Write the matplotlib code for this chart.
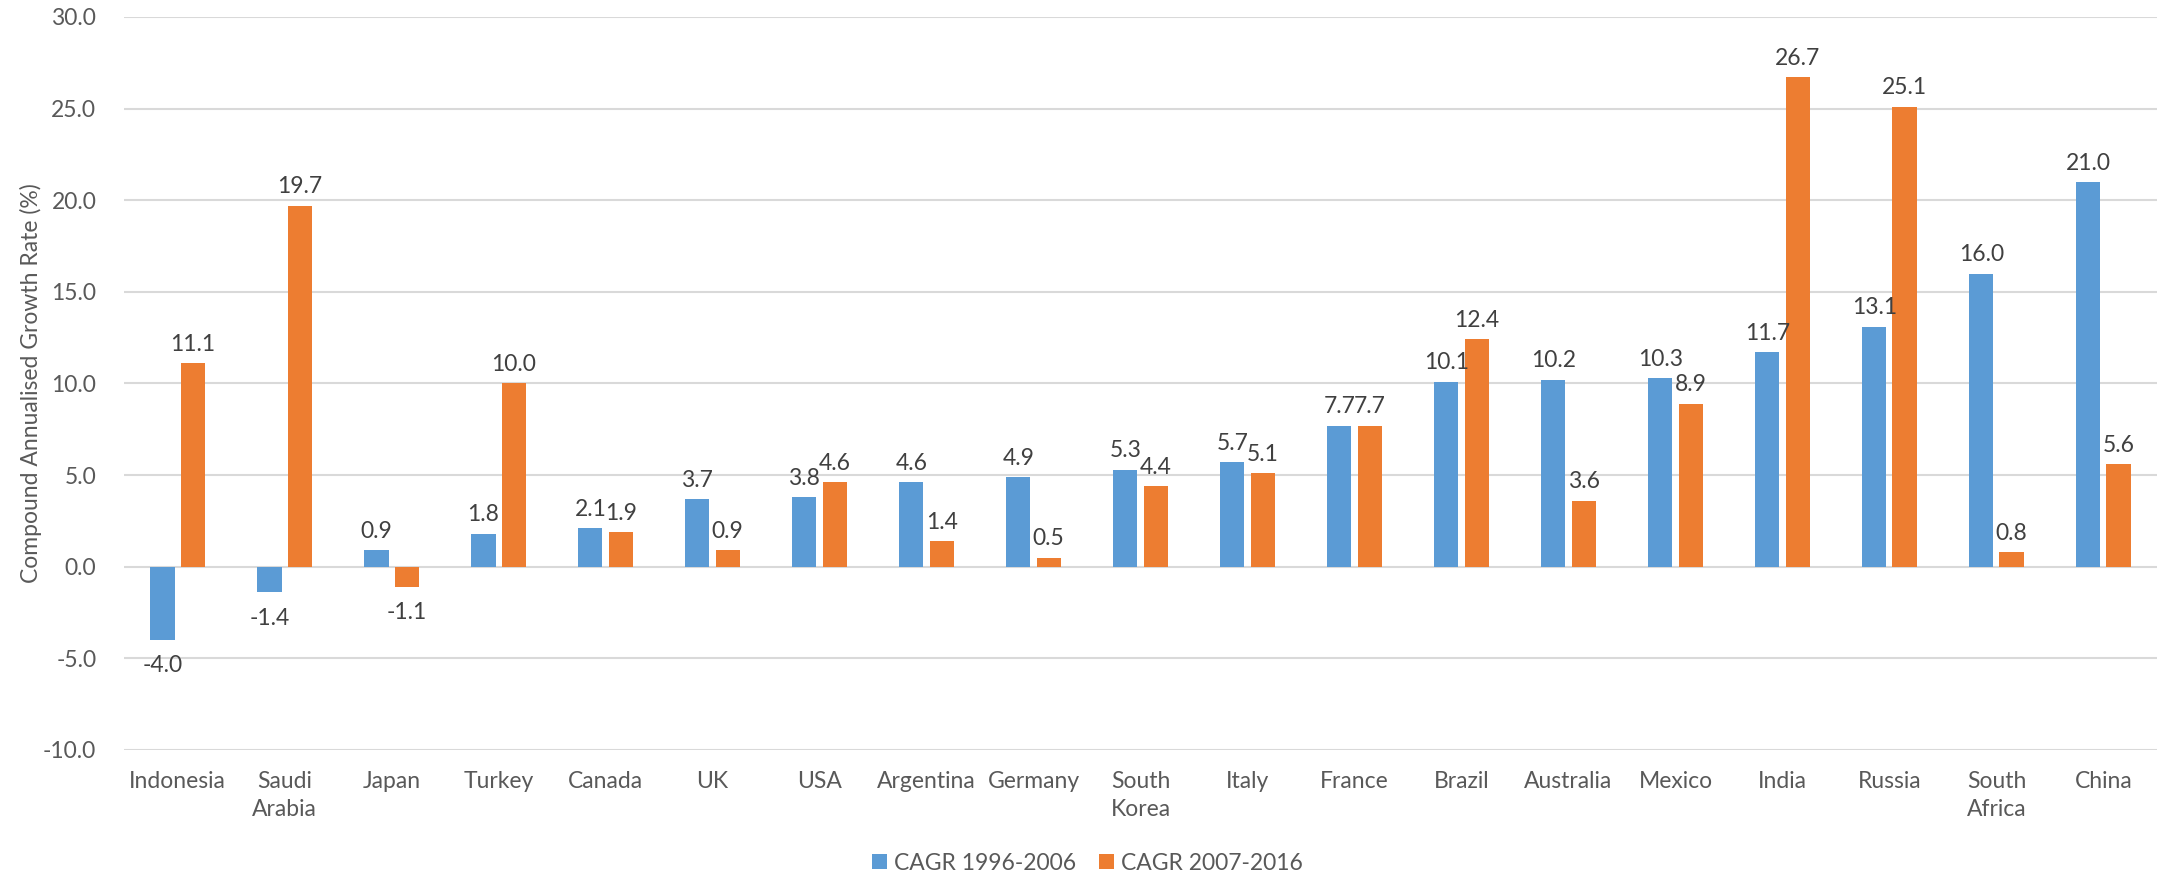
import matplotlib.pyplot as plt
import numpy as np

plt.rcParams['font.family'] = ['Lato', 'DejaVu Sans']

paises = ['Indonesia', 'Saudi\nArabia', 'Japan', 'Turkey', 'Canada', 'UK', 'USA',
          'Argentina', 'Germany', 'South\nKorea', 'Italy', 'France', 'Brazil',
          'Australia', 'Mexico', 'India', 'Russia', 'South\nAfrica', 'China']
cagr_1996_2006 = [-4.0, -1.4, 0.9, 1.8, 2.1, 3.7, 3.8, 4.6, 4.9, 5.3, 5.7, 7.7,
                  10.1, 10.2, 10.3, 11.7, 13.1, 16.0, 21.0]
cagr_2007_2016 = [11.1, 19.7, -1.1, 10.0, 1.9, 0.9, 4.6, 1.4, 0.5, 4.4, 5.1, 7.7,
                  12.4, 3.6, 8.9, 26.7, 25.1, 0.8, 5.6]
yticks = [-10, -5, 0, 5, 10, 15, 20, 25, 30]

cinza = '#595959'
azul = '#5B9BD5'
laranja = '#ED7D31'
tam = 16.5

fig = plt.figure(figsize=(21.58, 8.75), dpi=100)
ax = fig.add_axes([0.0575, 0.1429, 0.942, 0.8377])

x = np.arange(len(paises))
largura = 0.225
desloc = 0.141

# grade horizontal
for y in yticks:
    ax.axhline(y, color='#d9d9d9', linewidth=1.5, zorder=0)

b1 = ax.bar(x - desloc, cagr_1996_2006, width=largura, color=azul, label='CAGR 1996-2006', zorder=2)
b2 = ax.bar(x + desloc, cagr_2007_2016, width=largura, color=laranja, label='CAGR 2007-2016', zorder=2)

# rotulos dos valores
for barras, valores in [(b1, cagr_1996_2006), (b2, cagr_2007_2016)]:
    for barra, v in zip(barras, valores):
        cx = barra.get_x() + barra.get_width() / 2
        if v >= 0:
            ax.annotate('%.1f' % v, (cx, v), xytext=(0, 6), textcoords='offset points',
                        ha='center', va='bottom', fontsize=tam, color='#404040')
        else:
            ax.annotate('%.1f' % v, (cx, v), xytext=(0, -11), textcoords='offset points',
                        ha='center', va='top', fontsize=tam, color='#404040')

ax.set_xlim(-0.5, len(paises) - 0.5)
ax.set_ylim(-10, 30)
ax.set_yticks(yticks)
ax.set_yticklabels(['%.1f' % t for t in yticks])
ax.set_xticks(x)
ax.set_xticklabels(paises, linespacing=1.4)
ax.tick_params(axis='both', length=0, labelsize=tam, labelcolor=cinza)
ax.tick_params(axis='x', pad=15)
ax.tick_params(axis='y', pad=20)
for s in ax.spines.values():
    s.set_visible(False)

ax.set_ylabel('Compound Annualised Growth Rate (%)', fontsize=tam, color=cinza, labelpad=1)

fig.legend(handles=[b1, b2], loc='lower center', bbox_to_anchor=(0.504, -0.022), ncol=2,
           frameon=False, fontsize=tam, labelcolor=cinza, handlelength=0.65, handleheight=0.65,
           handletextpad=0.3, columnspacing=1.0)

fig.savefig('out.png', dpi=100)
